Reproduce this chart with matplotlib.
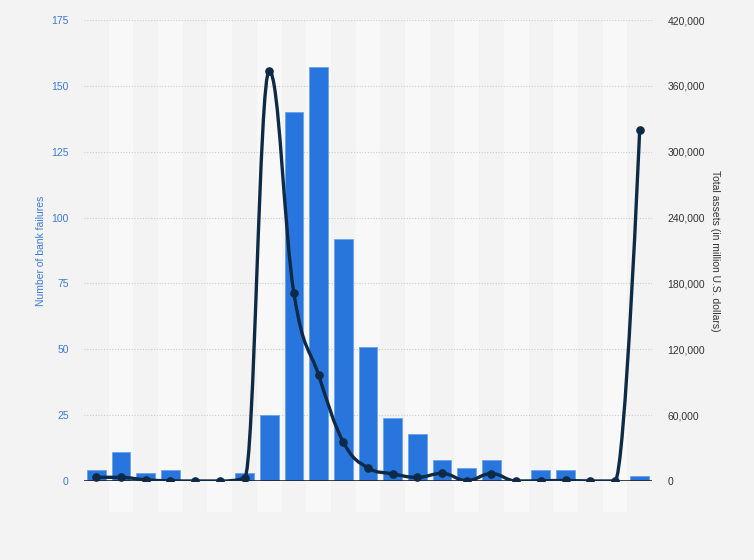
import numpy as np
import matplotlib
matplotlib.use('Agg')
from matplotlib import pyplot as plt
from matplotlib.path import Path
from matplotlib.patches import PathPatch
from matplotlib.ticker import FuncFormatter

plt.rcParams['font.family'] = ['Liberation Sans', 'DejaVu Sans']

years = list(range(2001, 2024))
failures = [4, 11, 3, 4, 0, 0, 3, 25, 140, 157, 92, 51, 24, 18, 8, 5, 8, 0, 4, 4, 0, 0, 2]
assets = [3400, 3300, 1100, 200, 0, 0, 2600, 373600, 171000, 96500, 35500, 12000,
          6500, 3300, 7000, 300, 6800, 0, 200, 500, 0, 0, 319500]

left_ticks = [0, 25, 50, 75, 100, 125, 150, 175]
right_ticks = [0, 60000, 120000, 180000, 240000, 300000, 360000, 420000]

bar_color = '#2876dd'
line_color = '#0e2a47'
bg = '#f3f3f3'


def spline_path(xs, ys, smoothing=1.5):
    # Highcharts-like spline: cubic beziers through every point
    n = len(xs)
    denom = smoothing + 1
    left, right = [None] * n, [None] * n
    for i in range(n):
        x, y = xs[i], ys[i]
        if 0 < i < n - 1:
            lx, ly = xs[i - 1], ys[i - 1]
            nx, ny = xs[i + 1], ys[i + 1]
            lcx, lcy = (smoothing * x + lx) / denom, (smoothing * y + ly) / denom
            rcx, rcy = (smoothing * x + nx) / denom, (smoothing * y + ny) / denom
            if rcx != lcx:
                corr = (rcy - lcy) * (rcx - x) / (rcx - lcx) + y - rcy
                lcy += corr
                rcy += corr
            if lcy > ly and lcy > y:
                lcy = max(ly, y)
                rcy = 2 * y - lcy
            elif lcy < ly and lcy < y:
                lcy = min(ly, y)
                rcy = 2 * y - lcy
            if rcy > ny and rcy > y:
                rcy = max(ny, y)
                lcy = 2 * y - rcy
            elif rcy < ny and rcy < y:
                rcy = min(ny, y)
                lcy = 2 * y - rcy
            left[i], right[i] = (lcx, lcy), (rcx, rcy)
        else:
            left[i] = right[i] = (x, y)
    verts = [(xs[0], ys[0])]
    codes = [Path.MOVETO]
    for i in range(1, n):
        verts += [right[i - 1], left[i], (xs[i], ys[i])]
        codes += [Path.CURVE4] * 3
    return Path(verts, codes)


fig = plt.figure(figsize=(7.54, 5.6), dpi=100, facecolor=bg)
ax = fig.add_axes([84 / 754, 79 / 560, 568 / 754, 461 / 560])
ax.set_facecolor(bg)
x = np.arange(len(years))

# alternating column bands, running down below the baseline
for i in x:
    if i % 2 == 1:
        ax.axvspan(i - 0.5, i + 0.5, ymin=-0.067, ymax=1, color='#f8f8f8',
                   zorder=0, clip_on=False, lw=0)

ax.bar(x, failures, width=0.76, color=bar_color, edgecolor='#6aa3ec',
       linewidth=0.6, zorder=2)
ax.set_xlim(-0.5, len(years) - 0.5)
ax.set_ylim(0, 175)
ax.set_yticks(left_ticks)
ax.set_xticks([])
ax.grid(axis='y', color='#c8c8c8', linestyle=(0, (1, 1.5)), linewidth=0.8, zorder=1)
ax.set_axisbelow(True)
for s in ax.spines.values():
    s.set_visible(False)
ax.axhline(0, color='#222222', linewidth=1.2, zorder=4)
ax.tick_params(axis='y', length=0, pad=11, labelsize=7.5, labelcolor='#3c7ad8')
ax.set_ylabel('Number of bank failures', color='#3c7ad8', fontsize=7.5, labelpad=4)

ax2 = ax.twinx()
ax2.set_ylim(0, 420000)
ax2.set_yticks(right_ticks)
ax2.yaxis.set_major_formatter(FuncFormatter(lambda v, p: f'{int(v):,}'))
for s in ax2.spines.values():
    s.set_visible(False)
ax2.tick_params(axis='y', length=0, pad=11, labelsize=7.5, labelcolor='#333333')
ax2.set_ylabel('Total assets (in million U.S. dollars)', color='#333333',
               fontsize=7.5, rotation=270, labelpad=11)

path = spline_path(list(x), assets)
ax2.add_patch(PathPatch(path, facecolor='none', edgecolor=line_color,
                        linewidth=2.4, zorder=5, capstyle='round', joinstyle='round'))
ax2.plot(x, assets, linestyle='none', marker='o', markersize=5.2,
         color=line_color, zorder=6)

fig.savefig('out.png', dpi=100, facecolor=bg)
